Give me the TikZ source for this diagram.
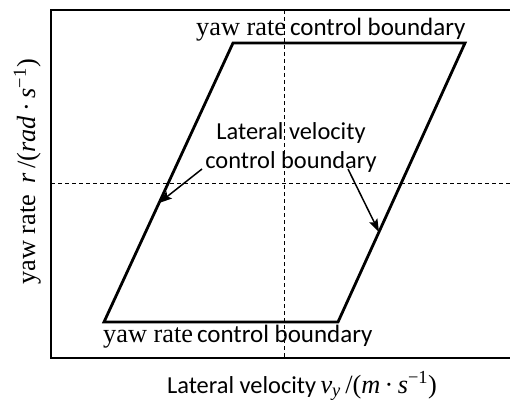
\documentclass[tikz,border=0pt]{standalone}
\usepackage{fontspec}
\setmainfont{Liberation Serif}
\newfontfamily\calfont{Carlito}
\usetikzlibrary{arrows.meta}
\tikzset{
  frame/.style={line width=1.5pt},
  region/.style={line width=2.8pt, line join=miter},
  guide/.style={line width=0.9pt, dash pattern=on 4pt off 3pt},
  lbl/.style={inner sep=0pt, font=\fontsize{26.3}{30}\selectfont},
  sans/.style={inner sep=0pt, font=\calfont\fontsize{24.4}{29}\selectfont, align=center},
  pointer/.style={line width=1.5pt, -{Stealth[length=13pt,width=9pt,inset=2.5pt]}}
}
\newcommand{\cb}{{\calfont\fontsize{25}{29}\selectfont control boundary}}
\begin{document}
\begin{tikzpicture}[x=1pt,y=-1pt]
\useasboundingbox (0,0) rectangle (510,401);
\clip (0,0) rectangle (510,401);
% frame
\coordinate (ftl) at (51,10);
\coordinate (ftr) at (530,10);
\coordinate (fbl) at (51,358);
\coordinate (fbr) at (530,358);
\draw[frame] (ftr) -- (ftl) -- (fbl) -- (fbr);
% axes guides
\coordinate (vt) at (284,10);
\coordinate (vb) at (284,358);
\coordinate (hl) at (51,183);
\coordinate (hr) at (520,183);
\draw[guide] (vt) -- (vb);
\draw[guide] (hl) -- (hr);
% region
\coordinate (tl) at (233,43);
\coordinate (tr) at (465,43);
\coordinate (br) at (338,322);
\coordinate (bl) at (104,322);
\draw[region] (tl) -- (tr) -- (br) -- (bl) -- cycle;
% labels
\node[lbl, anchor=base west] (top) at (196,36) {yaw rate\hspace{4pt}\cb};
\node[lbl, anchor=base west] (bot) at (103,342) {yaw rate\hspace{4pt}\cb};
\node[sans, anchor=base] (lv1) at (291,139) {Lateral velocity};
\node[sans, anchor=base] (lv2) at (291,168) {control boundary};
% pointers
\coordinate (pl) at (202,169);
\coordinate (el) at (159,203);
\coordinate (pr) at (348,169);
\coordinate (er) at (379,232);
\draw[pointer] (pl) -- (el);
\draw[pointer] (pr) -- (er);
% axis titles
\node[lbl, rotate=90, anchor=base] (ylab) at (35,172)
  {yaw rate\hspace{0.45em}\textit{r}\,/(\textit{rad}\,·\,\textit{s}\textsuperscript{−1})};
\node[lbl, anchor=base] (xlab) at (302,393)
  {{\calfont\fontsize{24.4}{29}\selectfont Lateral velocity}\,\textit{v}\textsubscript{\textit{y}}\,/(\textit{m}\,·\,\textit{s}\textsuperscript{−1})};
\end{tikzpicture}
\end{document}
